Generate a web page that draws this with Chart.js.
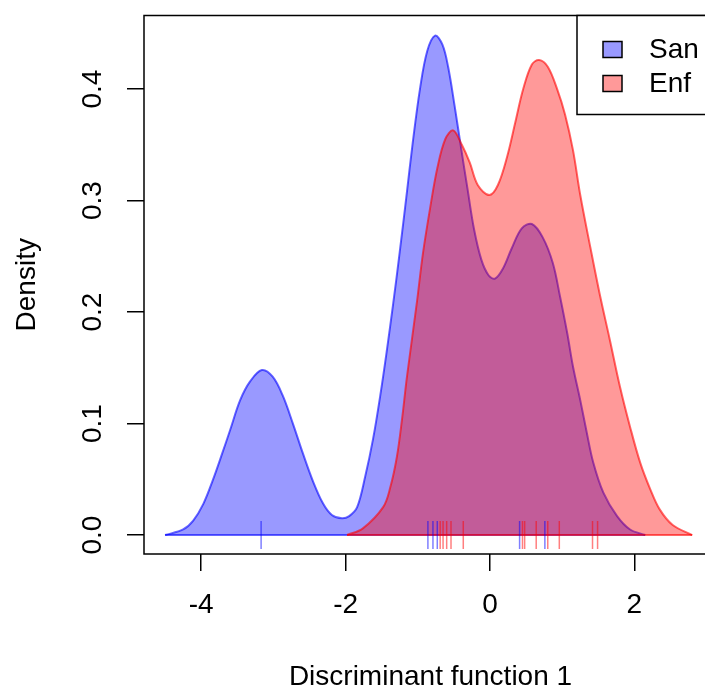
<!DOCTYPE html>
<html>
<head>
<meta charset="utf-8">
<title>Discriminant function density</title>
<script src="https://cdn.jsdelivr.net/npm/chart.js@4/dist/chart.umd.min.js"></script>
<style>
  html, body { margin: 0; padding: 0; background: #fff; overflow: hidden; }
  canvas { display: block; }
</style>
</head>
<body>
<canvas id="canvas" width="740" height="694"></canvas>
<script>
// density curve of group San
var sanX = [-4.50, -4.25, -4.11, -3.97, -3.84, -3.71, -3.60, -3.46, -3.32, -3.16, -3.01, -2.87, -2.73, -2.59,
            -2.45, -2.31, -2.19, -2.05, -1.95, -1.84, -1.73, -1.62, -1.52, -1.43, -1.34, -1.25, -1.15, -1.07,
            -0.97, -0.87, -0.76, -0.66, -0.58, -0.49, -0.40, -0.31, -0.22, -0.12, -0.02, 0.07, 0.18, 0.30,
            0.44, 0.58, 0.73, 0.87, 0.97, 1.07, 1.15, 1.25, 1.34, 1.43, 1.57, 1.76, 1.94, 2.15];
var sanY = [0, 0.005, 0.013, 0.028, 0.049, 0.073, 0.094, 0.121, 0.138, 0.148, 0.142, 0.125, 0.100, 0.073,
            0.048, 0.028, 0.018, 0.015, 0.017, 0.025, 0.052, 0.086, 0.125, 0.165, 0.208, 0.254, 0.308, 0.352,
            0.400, 0.434, 0.448, 0.440, 0.420, 0.385, 0.347, 0.310, 0.274, 0.247, 0.233, 0.230, 0.239, 0.257,
            0.275, 0.279, 0.267, 0.244, 0.214, 0.181, 0.151, 0.121, 0.092, 0.065, 0.038, 0.017, 0.005, 0];
// density curve of group Enf
var enfX = [-1.98, -1.76, -1.48, -1.38, -1.29, -1.22, -1.15, -1.01, -0.93, -0.83, -0.73, -0.62, -0.51, -0.39,
            -0.28, -0.17, -0.01, 0.11, 0.24, 0.35, 0.46, 0.58, 0.68, 0.80, 0.93, 1.04, 1.15, 1.25, 1.39, 1.52,
            1.66, 1.80, 1.94, 2.08, 2.22, 2.35, 2.53, 2.80];
var enfY = [0, 0.006, 0.025, 0.043, 0.070, 0.103, 0.142, 0.210, 0.252, 0.293, 0.329, 0.355, 0.363, 0.350,
            0.334, 0.314, 0.305, 0.314, 0.340, 0.370, 0.400, 0.422, 0.426, 0.420, 0.400, 0.377, 0.345, 0.305,
            0.258, 0.216, 0.175, 0.133, 0.097, 0.065, 0.041, 0.023, 0.009, 0];
// rug marks (single observations)
var sanRug = [-3.17, -0.86, -0.79, -0.73, 0.41, 0.76];
var enfRug = [-0.69, -0.65, -0.60, -0.54, -0.37, 0.45, 0.48, 0.64, 0.80, 0.96, 1.42, 1.49];
// axis ticks and names
var xTicks = [-4, -2, 0, 2];
var yTicks = [0, 0.1, 0.2, 0.3, 0.4];
var groups = ['San', 'Enf'];

var FONT = '"Liberation Sans", Arial, sans-serif';
var blueFill = 'rgba(0,0,255,0.4)', blueLine = 'rgba(0,0,255,0.6)';
var redFill = 'rgba(255,0,0,0.4)', redLine = 'rgba(255,0,0,0.6)';

// turn two arrays into {x,y} points
function pts(xs, ys) {
  return xs.map(function (x, i) { return { x: x, y: ys[i] }; });
}
// bottom edge of a density polygon
function base(xs) {
  return [{ x: xs[0], y: 0 }, { x: xs[xs.length - 1], y: 0 }];
}
function rug(xs) {
  return xs.map(function (x) { return { x: x, y: 0 }; });
}

// box round the plot region, like R's box()
var frame = {
  id: 'frame',
  afterDraw: function (chart) {
    var a = chart.chartArea, ctx = chart.ctx;
    ctx.save();
    ctx.strokeStyle = '#000';
    ctx.lineWidth = 1.5;
    ctx.strokeRect(a.left, a.top, a.right - a.left, a.bottom - a.top);
    ctx.restore();
  }
};

// legend in the top right corner
var legendBox = {
  id: 'legendBox',
  afterDraw: function (chart) {
    var ctx = chart.ctx, a = chart.chartArea;
    var left = 577, top = a.top, h = 99;
    ctx.save();
    ctx.fillStyle = '#fff';
    ctx.fillRect(left, top, 300, h);
    ctx.strokeStyle = '#000';
    ctx.lineWidth = 1.5;
    ctx.strokeRect(left, top, 300, h);
    var fills = [blueFill, redFill];
    ctx.font = '28px ' + FONT;
    ctx.textBaseline = 'middle';
    for (var i = 0; i < groups.length; i++) {
      var cy = top + 34 + i * 34;
      ctx.fillStyle = fills[i];
      ctx.fillRect(603, cy - 8, 19, 16);
      ctx.strokeStyle = '#000';
      ctx.lineWidth = 1.5;
      ctx.strokeRect(603, cy - 8, 19, 16);
      ctx.fillStyle = '#000';
      ctx.fillText(groups[i], 649, cy + 1);
    }
    ctx.restore();
  }
};

var lineOpts = { pointRadius: 0, pointHoverRadius: 0, borderWidth: 2, tension: 0.35 };

var config = {
  type: 'line',
  data: {
    datasets: [
      { label: groups[0] + ' rug', type: 'scatter', data: rug(sanRug), pointStyle: 'line', pointRotation: 90,
        pointRadius: 14, pointHoverRadius: 14, pointBorderColor: 'rgba(0,0,255,0.5)', pointBorderWidth: 1.5, order: 0 },
      { label: groups[1] + ' rug', type: 'scatter', data: rug(enfRug), pointStyle: 'line', pointRotation: 90,
        pointRadius: 14, pointHoverRadius: 14, pointBorderColor: 'rgba(255,0,0,0.5)', pointBorderWidth: 1.5, order: 1 },
      Object.assign({ label: groups[1] + ' base', data: base(enfX), borderColor: redLine, fill: false, order: 2 }, lineOpts),
      Object.assign({ label: groups[1], data: pts(enfX, enfY), borderColor: redLine, backgroundColor: redFill,
        fill: 'origin', order: 3 }, lineOpts),
      Object.assign({ label: groups[0] + ' base', data: base(sanX), borderColor: blueLine, fill: false, order: 4 }, lineOpts),
      Object.assign({ label: groups[0], data: pts(sanX, sanY), borderColor: blueLine, backgroundColor: blueFill,
        fill: 'origin', order: 5 }, lineOpts)
    ]
  },
  options: {
    responsive: false,
    animation: false,
    layout: { padding: { top: 13, right: 23, left: 0, bottom: 0 } },
    plugins: { legend: { display: false }, tooltip: { enabled: false } },
    scales: {
      x: {
        type: 'linear', position: 'bottom', min: -4.792, max: 3.144,
        afterBuildTicks: function (s) { s.ticks = xTicks.map(function (v) { return { value: v }; }); },
        afterFit: function (s) { s.height = 140; s.paddingLeft = 0; s.paddingRight = 0; },
        grid: { drawOnChartArea: false, drawTicks: true, tickLength: 17, color: '#000', lineWidth: 1.5 },
        border: { display: false },
        ticks: { autoSkip: false, maxRotation: 0, padding: 17, color: '#000', font: { size: 28, family: FONT },
                 callback: function (v) { return String(v); } },
        title: { display: true, text: 'Discriminant function 1', color: '#000', font: { size: 28, family: FONT },
                 padding: { top: 0, bottom: 0 } }
      },
      y: {
        type: 'linear', position: 'left', min: -0.017, max: 0.466,
        afterBuildTicks: function (s) { s.ticks = yTicks.map(function (v) { return { value: v }; }); },
        afterFit: function (s) { s.width = 144; s.paddingTop = 0; s.paddingBottom = 0; },
        grid: { drawOnChartArea: false, drawTicks: true, tickLength: 17, color: '#000', lineWidth: 1.5 },
        border: { display: false },
        ticks: { autoSkip: false, minRotation: 90, maxRotation: 90, crossAlign: 'center', padding: 14, color: '#000',
                 font: { size: 28, family: FONT }, callback: function (v) { return v.toFixed(1); } },
        title: { display: true, text: 'Density', color: '#000', font: { size: 28, family: FONT },
                 padding: { top: 10, bottom: 0 } }
      }
    }
  },
  plugins: [frame, legendBox]
};

new Chart(document.getElementById('canvas'), config);
</script>
</body>
</html>
